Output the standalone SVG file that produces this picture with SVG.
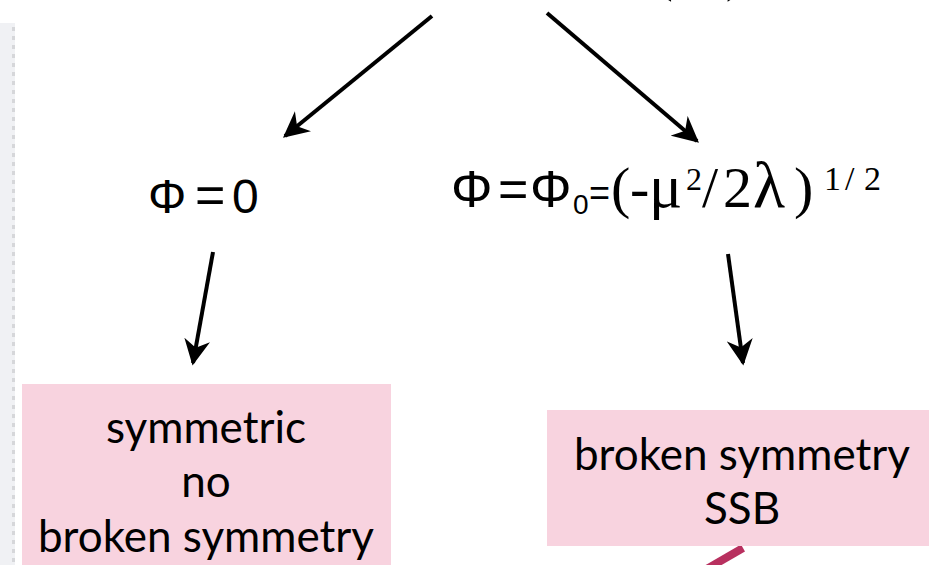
<svg xmlns="http://www.w3.org/2000/svg" width="936" height="565" viewBox="0 0 936 565">
<defs>
<style>
.box{fill:#f8d3df}
.lbl{font-family:Lato,"Open Sans","DejaVu Sans",sans-serif;font-size:44px;fill:#000;text-anchor:middle}
.conn{stroke:#000;stroke-width:4;fill:none;marker-end:url(#ah)}
.ser{font-family:"Liberation Serif","Times New Roman",serif}
.sans{font-family:"Liberation Sans",Arial,sans-serif}
</style>
<marker id="ah" viewBox="0 0 10 10" refX="9" refY="5" markerWidth="6.5" markerHeight="6.5" markerUnits="strokeWidth" orient="auto">
<path d="M0,0 L10,5 L0,10 L3,5 Z" fill="#000"/>
</marker>
<pattern id="dots" width="15" height="9" patternUnits="userSpaceOnUse">
<rect x="12" y="0" width="3" height="4" fill="#d6d7da"/>
</pattern>
</defs>
<g id="sidebar">
<rect x="0" y="23" width="15" height="542" fill="#f0f1f4"/>
<rect x="0" y="23" width="15" height="542" fill="url(#dots)"/>
</g>
<g id="top-text">
<text x="656" y="-9" class="ser" font-size="50">(</text>
<text x="726" y="-9" class="ser" font-size="50">)</text>
</g>
<g id="connectors">
<line class="conn" x1="432" y1="16" x2="285" y2="136"/>
<line class="conn" x1="547" y1="13" x2="697" y2="141"/>
<line class="conn" x1="213" y1="252" x2="193" y2="363"/>
<line class="conn" x1="728" y1="254" x2="743" y2="363"/>
<line x1="743" y1="548" x2="705" y2="570" stroke="#b8305f" stroke-width="8"/>
</g>
<g id="phi-zero">
<text y="213" class="sans" font-size="48"><tspan x="148">Φ</tspan><tspan x="195" font-size="52">=</tspan><tspan x="232">0</tspan></text>
</g>
<g id="phi-vev">
<text y="207" class="sans" font-size="52"><tspan x="451">Φ</tspan><tspan x="498">=</tspan><tspan x="530">Φ</tspan><tspan x="573" y="214" font-size="28">0</tspan><tspan x="589" y="205" font-size="36">=</tspan></text>
<text y="207" class="ser" font-size="58"><tspan x="611" y="207">(</tspan><tspan x="630" y="207">-</tspan><tspan x="649" y="207" font-size="62">μ</tspan><tspan x="686" y="190" font-size="32">2</tspan><tspan x="702" y="207">/</tspan><tspan x="723" y="207">2</tspan><tspan x="753" y="207" font-size="66">λ</tspan><tspan x="794" y="207">)</tspan><tspan x="824" y="190" font-size="34">1</tspan><tspan x="845" y="190" font-size="34">/</tspan><tspan x="864" y="190" font-size="34">2</tspan></text>
</g>
<g id="symmetric">
<rect class="box" x="22" y="384" width="369" height="181"/>
<text class="lbl" x="206" y="443">symmetric</text>
<text class="lbl" x="206" y="497">no</text>
<text class="lbl" x="206" y="552">broken symmetry</text>
</g>
<g id="broken">
<rect class="box" x="547" y="410" width="382" height="136"/>
<text class="lbl" x="742" y="470">broken symmetry</text>
<text class="lbl" x="742" y="524">SSB</text>
</g>
</svg>
